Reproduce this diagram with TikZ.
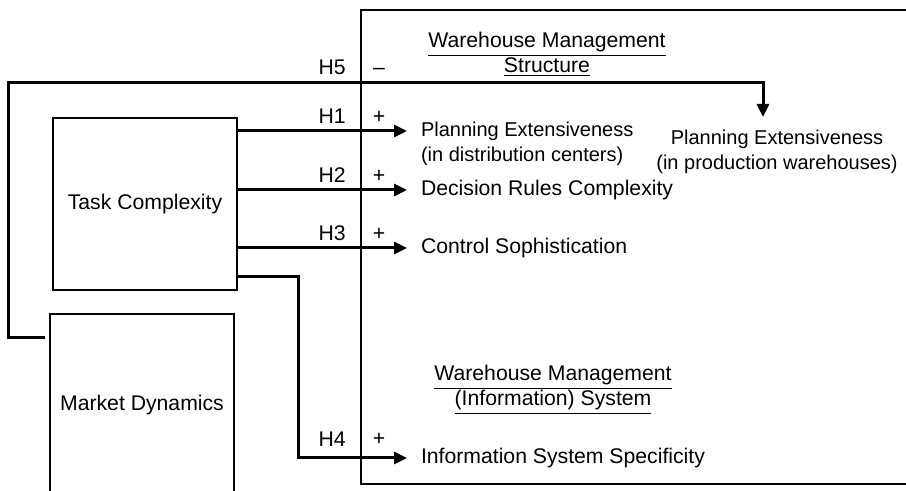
\documentclass[tikz,border=0pt]{standalone}
\usepackage{fontspec}
\setmainfont{Liberation Sans}
\usetikzlibrary{positioning,arrows.meta}

\tikzset{
  every node/.style={font=\fontsize{10.6}{12.5}\selectfont},
  small/.style={font=\fontsize{10}{12.5}\selectfont},
  box/.style={draw, line width=0.7pt, minimum width=92pt, align=center},
  frame/.style={line width=0.7pt},
  link/.style={line width=1.5pt},
  arr/.style={link, -{Triangle[length=6.5pt,width=6pt]}},
  target/.style={inner sep=0pt, outer xsep=7pt, anchor=west},
  hyp/.style={anchor=base east, inner sep=0pt},
  sign/.style={anchor=base, inner sep=0pt},
  heading/.style={align=center, anchor=north, inner sep=0pt},
}

\begin{document}
\begin{tikzpicture}[x=0.5pt,y=-0.5pt]
        \useasboundingbox (0,0) rectangle (906,491);
        \clip (0,0) rectangle (906,491);
        \draw[frame] (361,10) rectangle (920,484);

        \node[box, minimum height=86pt] (task) at (145,204) {Task Complexity};
        \node[box, minimum height=91pt] (market) at (142,405) {Market Dynamics};

        \node[heading] (wms) at (547,32) {\underline{Warehouse Management}\\\underline{Structure}};
        \node[heading] (wmis) at (553,365) {\underline{Warehouse Management}\\\underline{(Information) System}};

        \node[target, small] (pe1) at (407,131) {Planning Extensiveness};
        \node[target, small, anchor=base west] (pe1b) at ([yshift=-12.5pt]pe1.base west) {(in distribution centers)};
        \node[target] (drc) at (407,190) {Decision Rules Complexity};
        \node[target] (cs) at (407,248) {Control Sophistication};
        \node[target] (iss) at (407,458) {Information System Specificity};
        \node[small, align=center, anchor=north, inner sep=0pt, outer ysep=6.5pt] (pp) at (777,117) {Planning Extensiveness\\(in production warehouses)};

        \coordinate (h5turn) at (763,83);

        \draw[arr] (task.east |- pe1.west) -- (pe1.west);
        \draw[arr] (task.east |- drc.west) -- (drc.west);
        \draw[arr] (task.east |- cs.west) -- (cs.west);
        \draw[arr] ([yshift=7pt]task.south east) -- ++(61,0) |- (iss.west);
        \draw[arr] ([xshift=-2pt,yshift=-12pt]market.north west) -- ++(-37,0) |- (h5turn) -- (h5turn |- pp.north);

        \node[hyp] (h5) at (346,75) {H5};
        \node[hyp] (h1) at (346,124) {H1};
        \node[hyp] (h2) at (346,183) {H2};
        \node[hyp] (h3) at (346,241) {H3};
        \node[hyp] (h4) at (346,447) {H4};
        \node[sign] (s5) at (379,75) {--};
        \node[sign] (s1) at (379,124) {+};
        \node[sign] (s2) at (379,183) {+};
        \node[sign] (s3) at (379,241) {+};
        \node[sign] (s4) at (379,446) {+};
\end{tikzpicture}
\end{document}
